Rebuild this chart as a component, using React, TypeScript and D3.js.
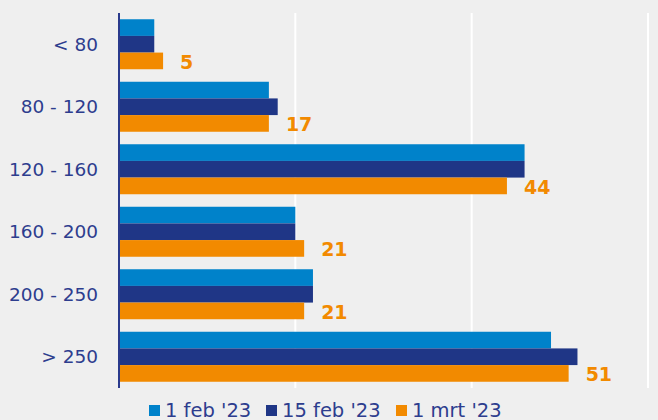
import React from "react";
import * as d3 from "d3";

const categories = ["< 80", "80 - 120", "120 - 160", "160 - 200", "200 - 250", "> 250"];
const seriesNames = ["1 feb '23", "15 feb '23", "1 mrt '23"];
const feb1 = [4, 17, 46, 20, 22, 49];
const feb15 = [4, 18, 46, 20, 22, 52];
const mrt1 = [5, 17, 44, 21, 21, 51];
const xTicks = [0, 20, 40, 60];

const colors = ["#0082ca", "#1f3686", "#f28a00"];
const W = 658, H = 420;
const left = 119, right = 648, top = 13, bottom = 388;

export default function App() {
  const x = d3.scaleLinear().domain([0, 60]).range([left, right]);
  const y = d3.scaleBand<string>().domain(categories).range([top, bottom]).paddingInner(0.2).paddingOuter(0.1);
  const series = [feb1, feb15, mrt1];
  const inner = d3.scaleBand<number>().domain([0, 1, 2]).range([0, y.bandwidth()]);
  const font = "'DejaVu Sans', sans-serif";
  const legendX = [149, 266, 396];
  return (
    <svg width={W} height={H} style={{ position: "absolute", left: 0, top: 0, background: "#efefef" }}>
      <rect x={0} y={0} width={W} height={H} fill="#efefef" />
      {xTicks.slice(1).map((t) => (
        <line key={t} x1={x(t)} x2={x(t)} y1={top} y2={bottom} stroke="#ffffff" strokeWidth={2} />
      ))}
      {categories.map((c, i) => (
        <g key={c}>
          {series.map((s, k) => (
            <rect key={k} x={x(0)} y={(y(c) as number) + (inner(k) as number)} width={x(s[i]) - x(0)} height={inner.bandwidth()} fill={colors[k]} />
          ))}
          <text x={98} y={(y(c) as number) + y.bandwidth() / 2} textAnchor="end" dominantBaseline="central" fontFamily={font} fontSize={18.5} fill="#2d3d8e">{c}</text>
          <text x={x(mrt1[i]) + 17} y={(y(c) as number) + (inner(2) as number) + inner.bandwidth() / 2 + 1} dominantBaseline="central" fontFamily={font} fontWeight="bold" fontSize={19} fill={colors[2]}>{mrt1[i]}</text>
        </g>
      ))}
      <line x1={x(0)} x2={x(0)} y1={top} y2={bottom} stroke="#2a3a8c" strokeWidth={2} />
      {seriesNames.map((n, k) => (
        <g key={n}>
          <rect x={legendX[k]} y={405} width={11} height={11} fill={colors[k]} />
          <text x={legendX[k] + 16} y={417} fontFamily={font} fontSize={19.5} fill="#2d3d8e">{n}</text>
        </g>
      ))}
    </svg>
  );
}
